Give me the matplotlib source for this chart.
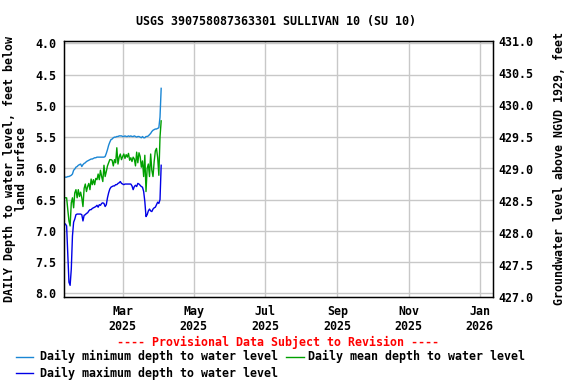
import datetime as dt

import matplotlib
matplotlib.use("Agg")
import matplotlib.dates as mdates
import matplotlib.pyplot as plt
from matplotlib.lines import Line2D

START = dt.date(2025, 1, 11)

# daily values, one per day starting at START (depth below land surface, ft)
min_depth = [
    6.14, 6.14, 6.13, 6.13, 6.12, 6.11, 6.09, 6.03, 6.01, 5.98,
    5.97, 5.95, 5.94, 5.93, 5.97, 5.94, 5.92, 5.91, 5.89, 5.88,
    5.87, 5.86, 5.85, 5.85, 5.84, 5.83, 5.83, 5.82, 5.82, 5.82,
    5.82, 5.82, 5.82, 5.82, 5.81, 5.76, 5.70, 5.63, 5.58, 5.54,
    5.53, 5.51, 5.50, 5.50, 5.49, 5.49, 5.48, 5.48, 5.48, 5.49,
    5.49, 5.48, 5.49, 5.49, 5.48, 5.49, 5.48, 5.49, 5.49, 5.48,
    5.49, 5.50, 5.49, 5.49, 5.50, 5.51, 5.49, 5.51, 5.51, 5.49,
    5.49, 5.48, 5.46, 5.44, 5.41, 5.39, 5.38, 5.37, 5.37, 5.36,
    5.35, 5.18, 4.72,
]
mean_depth = [
    6.47, 6.47, 6.66, 6.84, 6.92, 6.55, 6.47, 6.63, 6.39, 6.34,
    6.47, 6.34, 6.45, 6.38, 6.47, 6.61, 6.32, 6.25, 6.37, 6.29,
    6.24, 6.34, 6.17, 6.26, 6.18, 6.26, 6.16, 6.18, 6.09, 6.18,
    6.03, 6.13, 6.21, 5.95, 6.13, 6.05, 5.96, 5.91, 5.86, 5.86,
    5.87, 5.96, 5.86, 5.91, 5.67, 5.93, 5.82, 5.77, 5.86, 5.81,
    5.77, 5.84, 5.78, 5.82, 5.76, 5.87, 5.83, 5.89, 5.82, 5.85,
    5.96, 5.74, 5.91, 5.75, 5.81, 5.98, 5.88, 6.13, 5.79, 6.37,
    6.00, 5.93, 6.13, 5.77, 6.03, 6.13, 5.89, 5.72, 5.68, 5.83,
    6.11, 5.50, 5.24,
]
max_depth = [
    6.89, 6.92, 7.37, 7.82, 7.87, 7.61, 7.08, 6.86, 6.81, 6.74,
    6.73, 6.73, 6.73, 6.73, 6.74, 6.84, 6.75, 6.74, 6.72, 6.71,
    6.68, 6.66, 6.66, 6.64, 6.63, 6.62, 6.61, 6.59, 6.62, 6.58,
    6.59, 6.56, 6.55, 6.56, 6.61, 6.58, 6.47, 6.39, 6.33, 6.30,
    6.29, 6.28, 6.28, 6.26, 6.26, 6.24, 6.23, 6.21, 6.24, 6.25,
    6.26, 6.25, 6.25, 6.25, 6.25, 6.25, 6.25, 6.28, 6.34, 6.29,
    6.27, 6.29, 6.24, 6.25, 6.27, 6.29, 6.30, 6.37, 6.53, 6.77,
    6.74, 6.68, 6.65, 6.68, 6.69, 6.65, 6.63, 6.62, 6.58, 6.54,
    6.56, 6.50, 5.95,
]

depth_ticks = [4.0, 4.5, 5.0, 5.5, 6.0, 6.5, 7.0, 7.5, 8.0]
elev_ticks = [427.0, 427.5, 428.0, 428.5, 429.0, 429.5, 430.0, 430.5, 431.0]
month_ticks = [dt.date(2025, 3, 1), dt.date(2025, 5, 1), dt.date(2025, 7, 1),
               dt.date(2025, 9, 1), dt.date(2025, 11, 1), dt.date(2026, 1, 1)]

MIN_C = "#1a86d4"
MEAN_C = "#00a000"
MAX_C = "#0000e6"
FONT = {"family": "DejaVu Sans Mono", "weight": "bold", "size": 8.4}

plt.rcParams["font.family"] = "DejaVu Sans Mono"
plt.rcParams["font.weight"] = "bold"
plt.rcParams["font.size"] = 8.4

dates = [START + dt.timedelta(days=i) for i in range(len(mean_depth))]

fig = plt.figure(figsize=(5.76, 3.84), dpi=100)
ax = fig.add_axes([0.1116, 0.2266, 0.7438, 0.6666])

ax.plot(dates, min_depth, color=MIN_C, lw=1)
ax.plot(dates, mean_depth, color=MEAN_C, lw=1)
ax.plot(dates, max_depth, color=MAX_C, lw=1)

ax.set_xlim(dt.date(2025, 1, 10), dt.date(2026, 1, 12))
ax.set_ylim(8.056, 3.963)
ax.set_yticks(depth_ticks)
ax.set_yticklabels([f"{v:.1f}" for v in depth_ticks])
ax.set_xticks(month_ticks)
ax.xaxis.set_major_formatter(mdates.DateFormatter("%b\n%Y"))
ax.grid(True, color="#c8c8c8", lw=1)
ax.set_axisbelow(True)
ax.tick_params(length=0, pad=6)
for s in ax.spines.values():
    s.set_linewidth(1)

ax.set_ylabel("DAILY Depth to water level, feet below\nland surface",
              fontdict=FONT, labelpad=5, linespacing=0.95)

ax2 = ax.twinx()
ax2.set_ylim(427.0, 431.0)
ax2.set_yticks(elev_ticks)
ax2.set_yticklabels([f"{v:.1f}" for v in elev_ticks])
ax2.tick_params(length=0, pad=4)
ax2.set_ylabel("Groundwater level above NGVD 1929, feet", fontdict=FONT,
               labelpad=14)

fig.text(0.479, 0.945, "USGS 390758087363301 SULLIVAN 10 (SU 10)",
         ha="center", va="center", **FONT)
fig.text(0.482, 0.107, "---- Provisional Data Subject to Revision ----",
         ha="center", va="center", color="red", **FONT)

# legend drawn by hand in figure coords
fig.add_artist(Line2D([0.028, 0.058], [0.071, 0.071], color=MIN_C, lw=1))
fig.text(0.069, 0.071, "Daily minimum depth to water level", va="center", **FONT)
fig.add_artist(Line2D([0.496, 0.527], [0.071, 0.071], color=MEAN_C, lw=1))
fig.text(0.535, 0.071, "Daily mean depth to water level", va="center", **FONT)
fig.add_artist(Line2D([0.028, 0.058], [0.028, 0.028], color=MAX_C, lw=1))
fig.text(0.069, 0.028, "Daily maximum depth to water level", va="center", **FONT)

fig.savefig("out.png", dpi=100)
